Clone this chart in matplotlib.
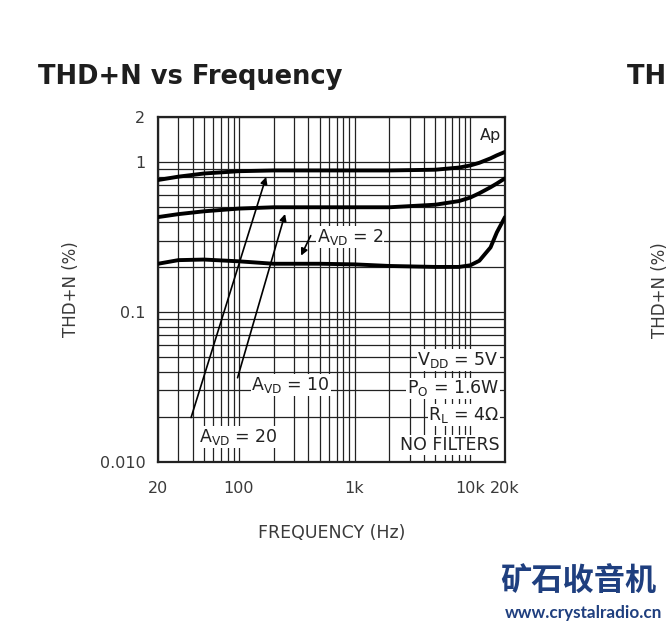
import matplotlib
matplotlib.use("Agg")
import matplotlib.pyplot as plt
from matplotlib.ticker import FixedLocator, NullFormatter, LogLocator

# ---- data ----
freq = [20, 30, 50, 100, 200, 500, 1000, 2000, 5000, 8000, 10000, 12000, 15000, 17000, 20000]
thd_avd20 = [0.76, 0.80, 0.84, 0.87, 0.88, 0.88, 0.88, 0.88, 0.89, 0.92, 0.95, 0.99, 1.06, 1.11, 1.17]
thd_avd10 = [0.43, 0.45, 0.47, 0.49, 0.50, 0.50, 0.50, 0.50, 0.52, 0.55, 0.58, 0.62, 0.68, 0.72, 0.78]
thd_avd2 = [0.21, 0.222, 0.224, 0.218, 0.21, 0.21, 0.208, 0.203, 0.20, 0.20, 0.205, 0.22, 0.27, 0.34, 0.43]

x_ticks = [20, 100, 1000, 10000, 20000]
x_ticklabels = ["20", "100", "1k", "10k", "20k"]
y_ticks = [0.01, 0.1, 1, 2]
y_ticklabels = ["0.010", "0.1", "1", "2"]

title = "THD+N vs Frequency"
xlabel = "FREQUENCY (Hz)"
ylabel = "THD+N (%)"
conditions = [r"V$\mathregular{_{DD}}$ = 5V", r"P$\mathregular{_{O}}$ = 1.6W",
              r"R$\mathregular{_{L}}$ = 4$\mathregular{\Omega}$", "NO FILTERS"]

W, H = 668, 626
fig = plt.figure(figsize=(W / 100, H / 100), dpi=100)
plt.rcParams['font.family'] = ['DejaVu Sans']

def fx(px):
    return px / W
def fy(py):
    return 1 - py / H

TXT = "#3a3a3a"

ax = fig.add_axes([fx(158), fy(462), fx(505) - fx(158), fy(117) - fy(462)])
ax.set_xscale("log")
ax.set_yscale("log")
ax.set_xlim(20, 20000)
ax.set_ylim(0.01, 2)

ax.xaxis.set_major_locator(FixedLocator(x_ticks))
ax.xaxis.set_minor_locator(LogLocator(base=10, subs=range(2, 10)))
ax.xaxis.set_minor_formatter(NullFormatter())
ax.set_xticklabels(x_ticklabels)
ax.yaxis.set_major_locator(FixedLocator(y_ticks))
ax.yaxis.set_minor_locator(LogLocator(base=10, subs=range(2, 10)))
ax.yaxis.set_minor_formatter(NullFormatter())
ax.set_yticklabels(y_ticklabels)

ax.grid(True, which="both", color="#222222", linewidth=0.9)
ax.tick_params(which="both", length=0, labelsize=11.5, colors=TXT)
ax.tick_params(axis="x", pad=14)
ax.tick_params(axis="y", pad=9)
for s in ax.spines.values():
    s.set_linewidth(1.6)
    s.set_color("#222222")

for y in (thd_avd20, thd_avd10, thd_avd2):
    ax.plot(freq, y, color="black", linewidth=2.8, solid_capstyle="round", zorder=5)

txtkw = dict(fontsize=12.5, color="#222222", zorder=7,
             bbox=dict(facecolor="white", edgecolor="none", pad=0.5))
arrkw = dict(arrowstyle="-|>", color="black", lw=1.2, mutation_scale=10)

# Annotations with arrows
ax.annotate("", xy=(175, 0.83), xytext=(38, 0.019), arrowprops=arrkw, zorder=6)
ax.annotate("", xy=(255, 0.47), xytext=(96, 0.035), arrowprops=arrkw, zorder=6)
ax.annotate("", xy=(337, 0.229), xytext=(428, 0.336), arrowprops=arrkw, zorder=6)

ax.text(470, 0.316, r"A$\mathregular{_{VD}}$ = 2", ha="left", va="center", **txtkw)
ax.text(128, 0.0326, r"A$\mathregular{_{VD}}$ = 10", ha="left", va="center", **txtkw)
ax.text(45, 0.0147, r"A$\mathregular{_{VD}}$ = 20", ha="left", va="center", **txtkw)

cond_y = [0.048, 0.031, 0.0206, 0.013]
for t, yv in zip(conditions, cond_y):
    ax.text(17800, yv, t, ha="right", va="center", **txtkw)

ax.text(18500, 1.5, "Ap", ha="right", va="center", fontsize=11.5, color="#222222", zorder=7)

ax.set_xlabel(xlabel, fontsize=12.5, color=TXT, labelpad=20)
ax.set_ylabel(ylabel, fontsize=12, color=TXT, labelpad=14)

fig.text(fx(38), fy(77), title, fontsize=18.5, fontweight="bold", color="#1e1e1e",
         ha="left", va="center")
fig.text(fx(627), fy(77), title, fontsize=18.5, fontweight="bold", color="#1e1e1e",
         ha="left", va="center")
fig.text(fx(660), fy(290), ylabel, fontsize=12, color=TXT, rotation=90,
         ha="center", va="center")

fig.text(fx(500), fy(582), "矿石收音机", fontsize=22.5, fontweight="bold", color="#1f3f7f",
         ha="left", va="center", family=["Noto Sans CJK SC", "DejaVu Sans"])
fig.text(fx(505), fy(613), "www.crystalradio.cn", fontsize=12.3, fontweight="bold", color="#1f3f7f",
         ha="left", va="center", family="Lato")

fig.savefig("out.png", dpi=100)
